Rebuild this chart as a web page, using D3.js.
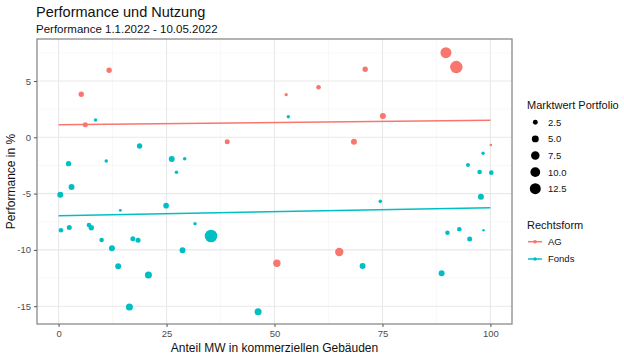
<!DOCTYPE html>
<html><head><meta charset="utf-8">
<script src="https://cdn.jsdelivr.net/npm/d3@7/dist/d3.min.js"></script>
<style>body{margin:0;background:#fff;}svg{display:block;font-family:"Liberation Sans",Arial,sans-serif;}</style>
</head><body><svg id="c" width="624" height="357"></svg>
<script>
// Data
const agX = [11.7, 5.25, 6.18, 39.05, 89.7, 92.1, 71.0, 60.2, 52.7, 75.1, 68.4, 100.1, 50.55, 65.0];
const agY = [5.95, 3.82, 1.12, -0.39, 7.51, 6.24, 6.04, 4.44, 3.79, 1.89, -0.39, -0.68, -11.19, -10.19];
const agMW = [3, 3, 2.6, 2.6, 12.5, 16, 3, 2.2, 1.1, 3.7, 3.7, 0.7, 5.7, 7.3];

const fdX = [8.56, 18.75, 2.31, 11.04, 26.2, 29.2, 27.3, 3.0, 0.4, 53.2, 98.3, 94.8, 97.5, 100.2, 97.8, 74.5, 14.3, 24.9, 0.55, 2.48, 7.03, 7.57, 9.96, 12.35, 13.8, 16.4, 17.2, 18.4, 20.8, 31.6, 35.3, 28.7, 46.2, 70.4, 88.7, 90.05, 92.8, 95.2, 98.4];
const fdY = [1.54, -0.77, -2.34, -2.1, -1.93, -1.9, -3.1, -4.41, -5.1, 1.83, -1.42, -2.46, -3.08, -3.14, -5.27, -5.69, -6.49, -6.07, -8.26, -8.0, -7.79, -8.03, -9.12, -9.86, -11.46, -15.07, -9.0, -9.15, -12.23, -7.67, -8.77, -10.04, -15.5, -11.43, -12.08, -8.47, -8.17, -9.03, -8.26];
const fdMW = [1.3, 3, 3, 1.3, 3.7, 1.3, 1.3, 3.7, 3.7, 1.2, 1.2, 1.7, 2.2, 2.2, 3.7, 1.3, 0.9, 3.3, 2.2, 2.6, 2.2, 3, 2.2, 3.7, 3.7, 5.1, 2.6, 2.6, 5.1, 1.2, 16.5, 3.7, 5.1, 3.7, 3.7, 2.2, 2.2, 2.6, 0.6];

// Linear fit endpoints (x = 0 and x = 100)
const fitX = [0, 100];
const agFit = [1.12, 1.51];
const fdFit = [-6.96, -6.25];

const xTicks = [0, 25, 50, 75, 100];
const yTicks = [-15, -10, -5, 0, 5];
const sizeBreaks = [2.5, 5.0, 7.5, 10.0, 12.5];
const groups = ["AG", "Fonds"];
const colors = ["#F8766D", "#00BFC4"];

const svg = d3.select("#c");
const P = {l: 37, r: 512, t: 39, b: 324};

const x = d3.scaleLinear().domain([-5, 105]).range([P.l, P.r]);
const y = d3.scaleLinear().domain([-16.58, 8.73]).range([P.b, P.t]);
const rS = d3.scaleSqrt().domain([0, 16.5]).range([0, 6.3]);
const col = d3.scaleOrdinal().domain(groups).range(colors);

// Panel background & grid
const g = svg.append("g");
const minorX = [12.5, 37.5, 62.5, 87.5];
const minorY = [-12.5, -7.5, -2.5, 2.5, 7.5];
g.selectAll(".mx").data(minorX).join("line").attr("x1", d => x(d)).attr("x2", d => x(d))
  .attr("y1", P.t).attr("y2", P.b).attr("stroke", "#f3f3f3").attr("stroke-width", 0.6);
g.selectAll(".my").data(minorY).join("line").attr("y1", d => y(d)).attr("y2", d => y(d))
  .attr("x1", P.l).attr("x2", P.r).attr("stroke", "#f3f3f3").attr("stroke-width", 0.6);
g.selectAll(".Mx").data(xTicks).join("line").attr("x1", d => x(d)).attr("x2", d => x(d))
  .attr("y1", P.t).attr("y2", P.b).attr("stroke", "#e9e9e9").attr("stroke-width", 1.1);
g.selectAll(".My").data(yTicks).join("line").attr("y1", d => y(d)).attr("y2", d => y(d))
  .attr("x1", P.l).attr("x2", P.r).attr("stroke", "#e9e9e9").attr("stroke-width", 1.1);

// Points
function pts(xs, ys, ms, grp) {
  return xs.map((v, i) => ({x: v, y: ys[i], m: ms[i], g: grp}));
}
const all = pts(agX, agY, agMW, "AG").concat(pts(fdX, fdY, fdMW, "Fonds"));
const line = d3.line().x(d => x(d[0])).y(d => y(d[1]));
svg.append("path").datum(fitX.map((v, i) => [v, agFit[i]])).attr("d", line)
  .attr("fill", "none").attr("stroke", col("AG")).attr("stroke-width", 1.5);
svg.append("path").datum(fitX.map((v, i) => [v, fdFit[i]])).attr("d", line)
  .attr("fill", "none").attr("stroke", col("Fonds")).attr("stroke-width", 1.5);
svg.append("g").selectAll("circle").data(all).join("circle")
  .attr("cx", d => x(d.x)).attr("cy", d => y(d.y)).attr("r", d => rS(d.m))
  .attr("fill", d => col(d.g));

// Border
svg.append("rect").attr("x", P.l).attr("y", P.t).attr("width", P.r - P.l).attr("height", P.b - P.t)
  .attr("fill", "none").attr("stroke", "#8a8a8a").attr("stroke-width", 1.3);

// Axes
const xa = svg.append("g").attr("transform", `translate(0,${P.b})`)
  .call(d3.axisBottom(x).tickValues(xTicks).tickSize(3).tickPadding(3).tickFormat(d3.format("d")));
const ya = svg.append("g").attr("transform", `translate(${P.l},0)`)
  .call(d3.axisLeft(y).tickValues(yTicks).tickSize(3).tickPadding(3).tickFormat(d => d < 0 ? "-" + Math.abs(d) : d));
[xa, ya].forEach(a => {
  a.select(".domain").remove();
  a.selectAll("line").attr("stroke", "#555");
  a.selectAll("text").attr("fill", "#4d4d4d").style("font-size", "9.5px").style("font-family", "Liberation Sans, Arial, sans-serif");
});

// Titles
svg.append("text").attr("x", 36).attr("y", 16.5).text("Performance und Nutzung")
  .style("font-size", "14.5px").attr("fill", "#111");
svg.append("text").attr("x", 36).attr("y", 32.5).text("Performance 1.1.2022 - 10.05.2022")
  .style("font-size", "11.5px").attr("fill", "#111");
svg.append("text").attr("x", (P.l + P.r) / 2).attr("y", 352).attr("text-anchor", "middle")
  .text("Anteil MW in kommerziellen Gebäuden").style("font-size", "12px").attr("fill", "#111");
svg.append("text").attr("transform", `translate(15,${(P.t + P.b) / 2}) rotate(-90)`).attr("text-anchor", "middle")
  .text("Performance in %").style("font-size", "12px").attr("fill", "#111");

// Legend: size
const lg = svg.append("g");
lg.append("text").attr("x", 527).attr("y", 109).text("Marktwert Portfolio").style("font-size", "11px").attr("fill", "#111");
const sy0 = 122.3, sdy = 16.6;
lg.selectAll(".sc").data(sizeBreaks).join("circle")
  .attr("cx", 535.3).attr("cy", (d, i) => sy0 + i * sdy).attr("r", d => rS(d)).attr("fill", "#000");
lg.selectAll(".st").data(sizeBreaks).join("text")
  .attr("x", 548).attr("y", (d, i) => sy0 + i * sdy + 3.4).text(d => d.toFixed(1))
  .style("font-size", "9.5px").attr("fill", "#111");

// Legend: colour
lg.append("text").attr("x", 527).attr("y", 229).text("Rechtsform").style("font-size", "11px").attr("fill", "#111");
const cy0 = 241.7, cdy = 17.3;
groups.forEach((gname, i) => {
  const yy = cy0 + i * cdy;
  lg.append("line").attr("x1", 528).attr("x2", 542).attr("y1", yy).attr("y2", yy)
    .attr("stroke", col(gname)).attr("stroke-width", 1.5);
  lg.append("circle").attr("cx", 535).attr("cy", yy).attr("r", 1.8).attr("fill", col(gname));
  lg.append("text").attr("x", 548).attr("y", yy + 3.4).text(gname).style("font-size", "9.5px").attr("fill", "#111");
});
</script></body></html>
